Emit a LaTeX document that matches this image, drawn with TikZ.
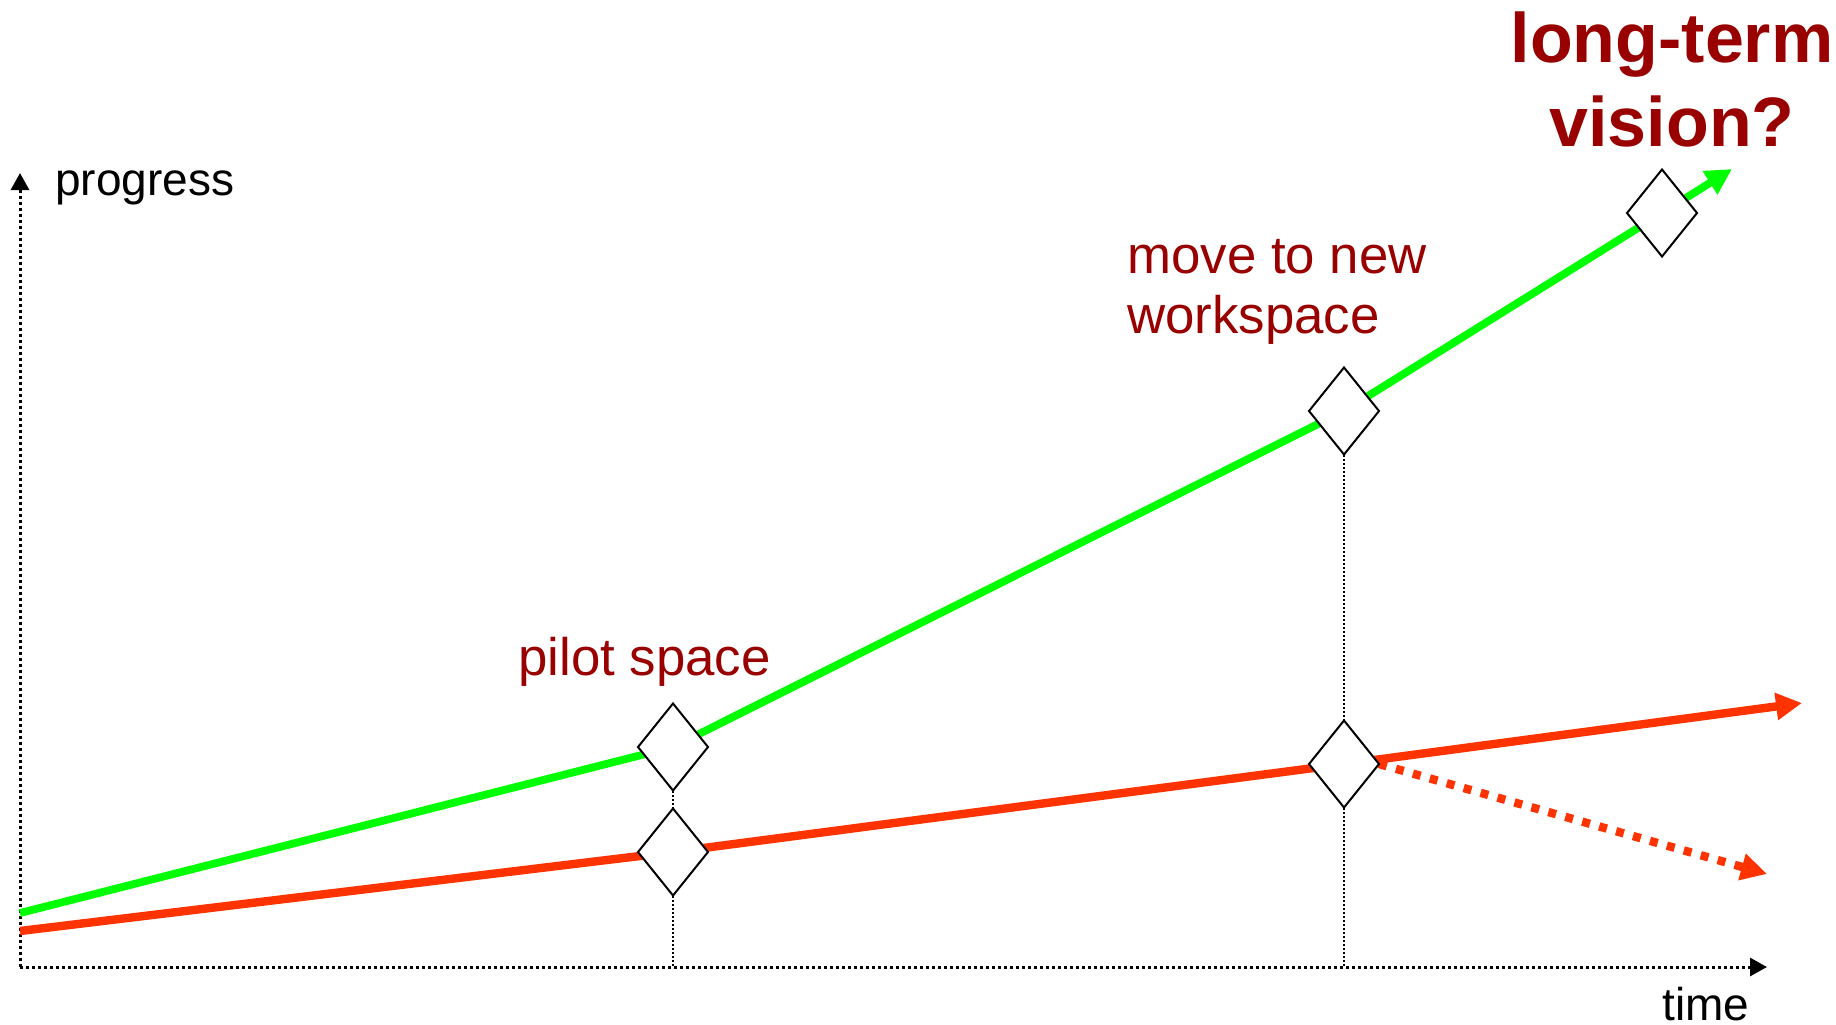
\documentclass[tikz,border=0pt]{standalone}
\usepackage{fontspec}
\setmainfont{Liberation Sans}
\usetikzlibrary{shapes.geometric,arrows.meta,backgrounds}
\definecolor{gline}{HTML}{00FF00}
\definecolor{rline}{HTML}{FF3300}
\definecolor{labelred}{HTML}{990000}

\begin{document}
\begin{tikzpicture}[x=0.5pt,y=-0.5pt,
  milestone/.style={diamond,draw=black,fill=white,line width=1pt,
    minimum width=35pt,minimum height=43.5pt,inner sep=0pt,outer sep=0pt},
  axisline/.style={black,line width=1.5pt,dash pattern=on 1.5pt off 1.5pt,
    -{Triangle[length=8.5pt,width=9pt]}},
  guide/.style={black,line width=0.8pt,dash pattern=on 1pt off 1pt},
  greenpath/.style={gline,line width=3.9pt,line join=round,
    -{Triangle[length=13pt,width=13pt]}},
  redpath/.style={rline,line width=4.2pt,line join=round,
    -{Triangle[length=13pt,width=13pt]}},
  redfade/.style={rline,line width=4.2pt,dash pattern=on 4pt off 4.8pt,
    -{Triangle[length=13pt,width=13pt]}},
  axislabel/.style={anchor=base west,inner sep=0pt,black,
    font=\fontsize{23pt}{27pt}\selectfont},
  caption/.style={anchor=base west,inner sep=0pt,text=labelred,
    font=\fontsize{26.4pt}{30pt}\selectfont},
  bigcaption/.style={anchor=base,inner sep=0pt,text=labelred,
    font=\fontsize{35pt}{42pt}\selectfont\bfseries}
]
\useasboundingbox (0,0) rectangle (1836,1024);

% axes end points
\coordinate (O) at (20,967);
\coordinate (ytip) at (20,173);
\coordinate (xtip) at (1767,967);
\coordinate (pa) at (673,967);
\coordinate (ma) at (1344,967);

% start and end points of the two trajectories
\coordinate (g0) at (20,913);
\coordinate (r0) at (20,931);
\coordinate (gtip) at (1732,169);
\coordinate (rtip) at (1802,703);
\coordinate (ftip) at (1767,874);

% milestones
\node[milestone] (pg) at (673,747) {};
\node[milestone] (pr) at (673,852) {};
\node[milestone] (mg) at (1344,411) {};
\node[milestone] (mr) at (1344,764) {};
\node[milestone] (vg) at (1662,213) {};

\begin{pgfonlayer}{background}
  % axes
  \draw[axisline] (O) -- (ytip);
  \draw[axisline] (O) -- (xtip);
  % trajectories
  \draw[greenpath] (g0) -- (pg.center) -- (mg.center) -- (vg.center) -- (gtip);
  \draw[redpath] (r0) -- (pr.center) -- (mr.center) -- (rtip);
  \draw[redfade] (mr.east) -- (ftip);
\end{pgfonlayer}

% drop lines from milestones to the time axis
\draw[guide] (pg.south) -- (pr.north);
\draw[guide] (pr.south) -- (pa);
\draw[guide] (mg.south) -- (mr.north);
\draw[guide] (mr.south) -- (ma);

% labels (base anchor of a two-line node sits on its last line)
\node[axislabel] (ylab) at (55,195) {progress};
\node[axislabel] (xlab) at (1662,1020) {time};
\node[caption] (pilotlab) at (518,675) {pilot space};
\node[caption,align=left] (movelab) at (1127,333) {move to new\\workspace};
\node[bigcaption,align=center] (visionlab) at (1672,146) {long-term\\vision?};
\end{tikzpicture}
\end{document}
